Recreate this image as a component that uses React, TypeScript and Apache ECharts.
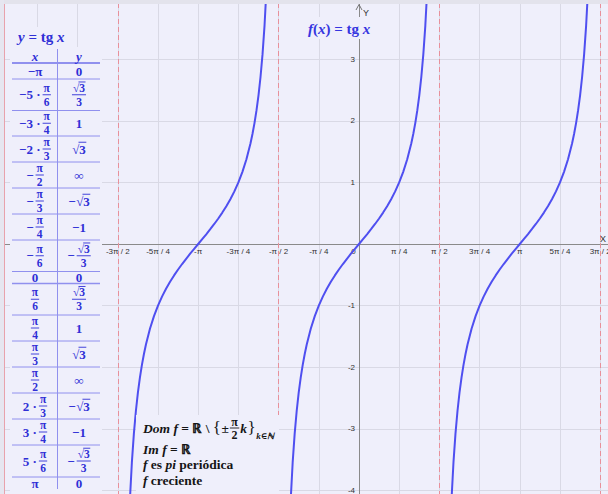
import React, { useEffect, useRef } from 'react';
import * as echarts from 'echarts';

// x axis in units of π/4
const quarterPiTicks = [-6, -5, -4, -3, -2, -1, 0, 1, 2, 3, 4, 5, 6];
const quarterPiLabels = ['-3π / 2', '-5π / 4', '-π', '-3π / 4', '-π / 2', '-π / 4', '0', 'π / 4', 'π / 2', '3π / 4', 'π', '5π / 4', '3π / 2'];
const asymptotes = [-6, -2, 2, 6];
const branchCenters = [-4, 0, 4];
const branchOffsets = [-1.75, -1.725, -1.7, -1.65, -1.6, -1.55, -1.5, -1.45, -1.4, -1.35, -1.3, -1.2, -1.1, -1, -0.9, -0.8, -0.7, -0.6, -0.5, -0.4, -0.3, -0.2, -0.1, 0, 0.1, 0.2, 0.3, 0.4, 0.5, 0.6, 0.7, 0.8, 0.9, 1, 1.1, 1.2, 1.3, 1.35, 1.4, 1.45, 1.5, 1.55, 1.6, 1.65, 1.7, 1.725, 1.75];
const branchValues = [-5.027, -4.558, -4.165, -3.546, -3.078, -2.711, -2.414, -2.169, -1.963, -1.786, -1.632, -1.376, -1.171, -1, -0.854, -0.727, -0.613, -0.51, -0.414, -0.325, -0.24, -0.158, -0.079, 0, 0.079, 0.158, 0.24, 0.325, 0.414, 0.51, 0.613, 0.727, 0.854, 1, 1.171, 1.376, 1.632, 1.786, 1.963, 2.169, 2.414, 2.711, 3.078, 3.546, 4.165, 4.558, 5.027];

// table: "prefix|num|den" or plain
const tableXCol = ['−π', '−5 ·|π|6', '−3 ·|π|4', '−2 ·|π|3', '−|π|2', '−|π|3', '−|π|4', '−|π|6', '0', '|π|6', '|π|4', '|π|3', '|π|2', '2 ·|π|3', '3 ·|π|4', '5 ·|π|6', 'π'];
const tableYCol = ['0', '|√3|3', '1', '√3', '∞', '−√3', '−1', '−|√3|3', '0', '|√3|3', '1', '√3', '∞', '−√3', '−1', '−|√3|3', '0'];

const BG = '#efeffb';
const SERIF = '"Liberation Serif", "DejaVu Serif", serif';
const BLUE_T = '#2f2fd6';
const LINE_T = '#9090ee';

const ctx = document.createElement('canvas').getContext('2d')!;
function tw(text: string, font: string) {
  ctx.font = font;
  return ctx.measureText(text).width;
}

function txt(x: number, y: number, text: string, font: string, fill: string, align = 'left', lh?: number, z = 110): any {
  const style: any = { text, font, fill, align, textAlign: align, verticalAlign: 'middle', textVerticalAlign: 'middle' };
  if (lh) style.lineHeight = lh;
  return { type: 'text', x, y, z, silent: true, style };
}
function ln(x1: number, y1: number, x2: number, y2: number, stroke: string, lineWidth = 1, z = 105): any {
  return { type: 'line', z, silent: true, shape: { x1, y1, x2, y2 }, style: { stroke, lineWidth } };
}
function rect(x: number, y: number, width: number, height: number, fill: string, z = 100): any {
  return { type: 'rect', z, silent: true, shape: { x, y, width, height }, style: { fill } };
}

function atom(str: string, size: number) {
  const font = `bold ${size}px ${SERIF}`;
  const lh = size - 2;
  if (str.includes('√')) {
    const [pre, rad] = str.split('√');
    const wp = pre ? tw(pre, font) + 0.5 : 0;
    const wr = tw('√', font);
    const wn = tw(rad, font);
    return {
      w: wp + wr + wn,
      draw: (x: number, cy: number, els: any[], fill: string) => {
        if (pre) els.push(txt(x, cy, pre, font, fill, 'left', lh));
        els.push(txt(x + wp, cy, '√', font, fill, 'left', lh));
        els.push(txt(x + wp + wr, cy, rad, font, fill, 'left', lh));
        els.push(ln(x + wp + wr - 0.8, cy - size * 0.52, x + wp + wr + wn + 0.5, cy - size * 0.52, fill, 0.9, 111));
      },
    };
  }
  const w = tw(str, font);
  return { w, draw: (x: number, cy: number, els: any[], fill: string) => { els.push(txt(x, cy, str, font, fill, 'left', lh)); } };
}

function cell(spec: string, cx: number, cy: number, els: any[], fill: string, size: number, fracSize: number) {
  const parts = spec.split('|');
  if (parts.length === 1) {
    const a = atom(spec, size);
    a.draw(cx - a.w / 2, cy, els, fill);
    return;
  }
  const [prefix, num, den] = parts;
  const p = prefix ? atom(prefix, size) : null;
  const n = atom(num, fracSize);
  const d = atom(den, fracSize);
  const fw = Math.max(n.w, d.w) + 2;
  const gap = p ? 2 : 0;
  const total = (p ? p.w : 0) + gap + fw;
  let x = cx - total / 2;
  if (p) { p.draw(x, cy, els, fill); x += p.w + gap; }
  n.draw(x + (fw - n.w) / 2, cy - 6.8, els, fill);
  d.draw(x + (fw - d.w) / 2, cy + 7, els, fill);
  els.push(ln(x, cy, x + fw, cy, fill, 0.9, 111));
}

function seq(x: number, cy: number, pieces: [string, string][], fill: string, els: any[]) {
  let cur = x;
  for (const [t, f] of pieces) {
    els.push(txt(cur, cy, t, f, fill));
    cur += tw(t, f);
  }
  return cur;
}

function buildGraphics() {
  const els: any[] = [];
  // frame strips
  els.push(rect(0, 0, 608, 4, '#e3e3ec', 120));
  els.push(rect(0, 0, 4, 494, '#e6e6f0', 120));
  els.push(ln(4.5, 4, 4.5, 494, '#e8a2ac', 1, 121));

  // table panel
  els.push(rect(10, 47, 92, 447, BG, 100));
  els.push(rect(11, 27, 62, 21, BG, 100));
  const it15 = `italic bold 15px ${SERIF}`;
  const up15 = `bold 15px ${SERIF}`;
  seq(18, 37, [['y', it15], [' = tg ', up15], ['x', it15]], BLUE_T, els);
  const it13 = `italic bold 13px ${SERIF}`;
  els.push(txt(35, 56.5, 'x', it13, BLUE_T, 'center'));
  els.push(txt(79, 56.5, 'y', it13, BLUE_T, 'center'));

  const rowEdges = [63, 79, 110.5, 136, 162, 188, 214, 240, 271.5, 283.5, 315, 341, 367, 393, 419, 445, 477, 490];
  for (let i = 0; i < rowEdges.length - 1; i++) {
    const w = i === 0 ? 2 : i === 9 ? 1.5 : 1;
    els.push(ln(12, rowEdges[i], 100, rowEdges[i], LINE_T, w));
  }
  els.push(ln(57.5, 49, 57.5, 489, LINE_T, 1));
  for (let i = 0; i < tableXCol.length; i++) {
    const cy = (rowEdges[i] + rowEdges[i + 1]) / 2;
    cell(tableXCol[i], 35, cy, els, BLUE_T, 13, 11.5);
    cell(tableYCol[i], 79, cy, els, BLUE_T, 13, 11.5);
  }

  // f(x) = tg x label
  els.push(rect(305, 17, 70, 22, BG, 100));
  seq(308, 29, [['f', it15], ['(', up15], ['x', it15], [')', up15], [' = tg ', up15], ['x', it15]], '#3636e0', els);

  // axis arrow and names
  els.push({ type: 'polyline', z: 106, silent: true, shape: { points: [[356, 10], [359, 4.5], [362, 10]] }, style: { stroke: '#777', lineWidth: 1, fill: 'none' } });
  els.push(txt(363, 13, 'Y', '9px "Liberation Sans", Arial, sans-serif', '#333'));
  els.push(txt(600, 238.5, 'X', '9px "Liberation Sans", Arial, sans-serif', '#333'));

  // bottom info box
  els.push(rect(136, 415, 143, 79, BG, 100));
  const K = '#151515';
  const it = `italic bold 13.5px ${SERIF}`;
  const up = `bold 13.5px ${SERIF}`;
  let cur = seq(143, 428, [['Dom', it], [' ', up], ['f', it], [' = ℝ \\ ', up]], K, els);
  const br = `17px ${SERIF}`;
  els.push(txt(cur, 427, '{', br, K));
  cur += tw('{', br) + 0.5;
  els.push(txt(cur, 428, '±', up, K));
  cur += tw('±', up) + 1;
  const fw = tw('π', up) + 2;
  els.push(txt(cur + fw / 2, 421.5, 'π', `bold 12px ${SERIF}`, K, 'center', 10));
  els.push(ln(cur, 428, cur + fw, 428, K, 0.9, 111));
  els.push(txt(cur + fw / 2, 434.5, '2', `bold 12px ${SERIF}`, K, 'center', 10));
  cur += fw + 1;
  els.push(txt(cur, 428, 'k', it, K));
  cur += tw('k', it) + 0.5;
  els.push(txt(cur, 427, '}', br, K));
  cur += tw('}', br) + 0.5;
  els.push(txt(cur, 436, 'k∈ℕ', `italic bold 9px ${SERIF}`, K));
  seq(143, 449, [['Im', it], [' ', up], ['f', it], [' = ℝ', up]], K, els);
  seq(143, 464, [['f', it], [' es ', up], ['pi', it], [' periódica', up]], K, els);
  seq(143, 480, [['f', it], [' creciente', up]], K, els);
  return els;
}

function buildOption(): any {
  const x0 = 359, ux = 40.2, y0 = 244, uy = 61.6;
  const xmin = -9, xmax = 7, ymin = -5, ymax = 4;
  const gLeft = x0 + xmin * ux;
  const gTop = y0 - ymax * uy;
  const gWidth = (xmax - xmin) * ux;
  const gHeight = (ymax - ymin) * uy;
  const gBottom = gTop + gHeight;
  const labelFont = '"Liberation Sans", Arial, sans-serif';
  return {
    animation: false,
    backgroundColor: BG,
    grid: {
      left: gLeft,
      top: gTop,
      width: gWidth,
      height: gHeight,
      show: false,
      containLabel: false,
      outerBoundsMode: 'none',
    },
    xAxis: {
      type: 'value', min: xmin, max: xmax, interval: 1,
      position: 'bottom',
      offset: y0 - gBottom,
      axisLine: { onZero: false, lineStyle: { color: '#8a8a8a', width: 1 } },
      axisTick: { show: false },
      splitLine: { show: true, lineStyle: { color: '#d9d9e5', width: 1 } },
      axisLabel: {
        fontSize: 8, color: '#333', fontFamily: labelFont, margin: 3,
        showMinLabel: false, showMaxLabel: false,
        formatter: (v: number) => {
          const i = quarterPiTicks.indexOf(Math.round(v));
          if (i < 0) return '';
          if (Math.round(v) === 0) return '{z|0}';
          return quarterPiLabels[i];
        },
        rich: { z: { fontSize: 8, color: '#333', fontFamily: labelFont, padding: [0, 11, 0, 0] } },
      },
    },
    yAxis: {
      type: 'value', min: ymin, max: ymax, interval: 1,
      position: 'left',
      offset: gLeft - x0,
      axisLine: { onZero: false, lineStyle: { color: '#8a8a8a', width: 1 } },
      axisTick: { show: false },
      splitLine: { show: true, lineStyle: { color: '#d9d9e5', width: 1 } },
      axisLabel: {
        fontSize: 8, color: '#333', fontFamily: labelFont, margin: 4,
        padding: [3, 0, 0, 0],
        formatter: (v: number) => (v === 0 || v === ymin || v === ymax ? '' : String(v)),
      },
    },
    series: branchCenters.map((c, i) => ({
      type: 'line',
      data: branchOffsets.map((d, j) => [c + d, branchValues[j]]),
      smooth: false,
      symbol: 'none',
      showSymbol: false,
      clip: true,
      z: 3,
      lineStyle: { color: '#4f4ff0', width: 2 },
      markLine: i === 0 ? {
        silent: true,
        symbol: ['none', 'none'],
        label: { show: false },
        lineStyle: { color: '#e8909b', type: [5, 3], width: 1 },
        data: asymptotes.map((a) => ({ xAxis: a })),
      } : undefined,
    })),
    graphic: { elements: buildGraphics() },
  };
}

export default function App() {
  const ref = useRef<HTMLDivElement>(null);
  useEffect(() => {
    const chart = echarts.init(ref.current!, null, { renderer: 'svg' });
    chart.setOption(buildOption());
    return () => chart.dispose();
  }, []);
  return <div ref={ref} style={{ position: 'fixed', left: 0, top: 0, width: 608, height: 494 }} />;
}
